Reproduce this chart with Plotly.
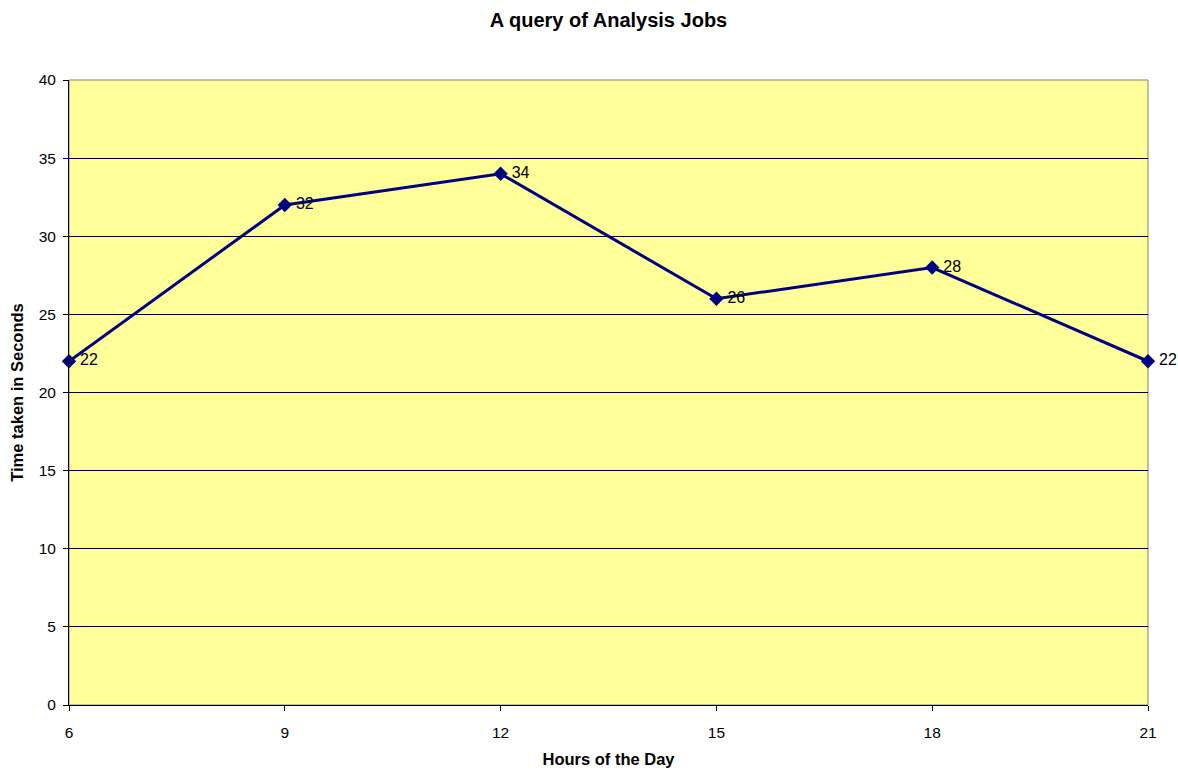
import plotly.graph_objects as go

# Hours of the day and the time each analysis job took
hours = [6, 9, 12, 15, 18, 21]
seconds = [22, 32, 34, 26, 28, 22]
x_ticks = [6, 9, 12, 15, 18, 21]
y_ticks = [0, 5, 10, 15, 20, 25, 30, 35, 40]

font_family = "Liberation Sans, Arial, sans-serif"

fig = go.Figure()
fig.add_trace(go.Scatter(
    x=hours,
    y=seconds,
    mode="lines+markers+text",
    text=["\u2009" + str(v) for v in seconds],
    textposition="middle right",
    textfont=dict(family=font_family, size=16, color="black"),
    line=dict(color="#000080", width=3),
    marker=dict(symbol="diamond", size=11, color="#000080"),
    cliponaxis=False,
    showlegend=False,
))

# Gray frame around the plot area (top and right edges show)
fig.add_shape(type="rect", xref="paper", yref="paper", x0=0, x1=1, y0=0, y1=1,
              line=dict(color="#808080", width=1), layer="below")

fig.update_layout(
    width=1178,
    height=771,
    margin=dict(l=69, r=30, t=80, b=66),
    paper_bgcolor="white",
    plot_bgcolor="#FFFF99",
    font=dict(family=font_family, size=15, color="black"),
    title=dict(
        text="<b>A query of Analysis Jobs</b>",
        x=0.5, xref="paper", xanchor="center",
        y=1 - 20 / 771, yanchor="middle",
        font=dict(family=font_family, size=20, color="black"),
    ),
)

fig.update_xaxes(
    range=[6, 21],
    tickvals=x_ticks,
    ticktext=[str(v) for v in x_ticks],
    ticks="outside", ticklen=5, tickcolor="black",
    ticklabelstandoff=8,
    automargin=False,
    showgrid=False, zeroline=False,
    showline=True, linecolor="black", linewidth=1,
    tickfont=dict(size=15.5),
    title=dict(text="<b>Hours of the Day</b>", font=dict(size=16.5), standoff=13),
)
fig.update_yaxes(
    range=[0, 40],
    tickvals=y_ticks,
    ticks="outside", ticklen=5, tickcolor="black",
    ticklabelstandoff=4,
    automargin=False,
    showgrid=True, gridcolor="black", gridwidth=1,
    zeroline=False,
    showline=True, linecolor="black", linewidth=1,
    tickfont=dict(size=15.5),
    title=dict(text="<b>Time taken in Seconds</b>", font=dict(size=16.5), standoff=10),
)

fig.write_html("out.html")
